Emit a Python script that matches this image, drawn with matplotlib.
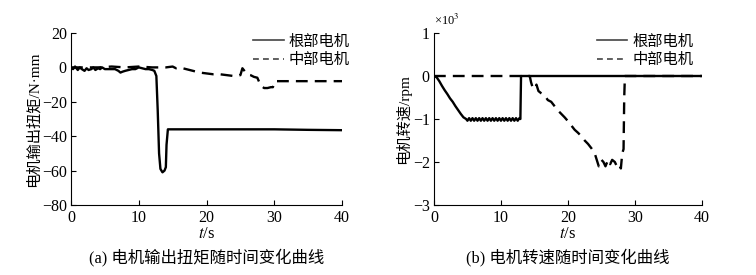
import matplotlib
matplotlib.use("Agg")
import matplotlib.pyplot as plt
from matplotlib.lines import Line2D
from matplotlib.ticker import FuncFormatter

plt.rcParams['font.family'] = ['Liberation Serif', 'Noto Sans CJK SC']
plt.rcParams['axes.unicode_minus'] = True
plt.rcParams['mathtext.fontset'] = 'stix'

# (a) motor output torque, N·mm
t_root_torque = [0, 0.3, 0.6, 1, 1.3, 1.6, 2, 2.3, 2.6, 3, 3.3, 3.6, 4, 4.3, 4.6, 5, 5.5, 6,
                 6.5, 7, 7.3, 7.6, 8, 8.5, 9, 9.5, 10, 10.5, 11, 11.5, 12, 12.3, 12.6, 12.8,
                 13.0, 13.2, 13.5, 13.8, 14.0, 14.1, 14.3, 20, 30, 35, 40]
root_torque = [0, -1, 0.5, -1.5, 0, -1, -2, -0.5, -1.5, -1, 0, -1.5, -0.5, -1, 0, -1, -1, -1,
               -1, -2, -3, -2.5, -2, -1.5, -1, -1, 0, -0.5, -1, -1, -1.5, -2, -5, -25,
               -50, -59, -61, -60, -58, -45, -36, -36, -36, -36.3, -36.5]
t_mid_torque = [0, 2, 4, 6, 8, 10, 12, 14, 15, 15.5, 16, 17, 18, 19, 20, 21, 22, 23, 24, 25,
                25.3, 25.6, 26, 26.5, 27, 27.5, 28, 28.5, 29, 29.5, 29.8, 30, 30.1, 35, 40]
mid_torque = [0, 0, 0, 0.5, 0, 0.5, 0, 0, 0.5, -0.5, 0, -1, -2, -3, -3.5, -4, -4, -4.5, -5, -4.5,
              -0.5, -2, -4, -4.5, -5.5, -6, -10.5, -12, -12, -11.5, -11.5, -9, -8, -8, -8]

# (b) motor speed, rpm
t_root_speed = [0, 0.4, 0.8, 1.2, 1.6, 2, 2.4, 2.8, 3.2, 3.6, 4, 4.4, 4.8,
                5.0, 5.25, 5.5, 5.75, 6.0, 6.25, 6.5, 6.75, 7.0, 7.25, 7.5, 7.75,
                8.0, 8.25, 8.5, 8.75, 9.0, 9.25, 9.5, 9.75, 10.0, 10.25, 10.5, 10.75,
                11.0, 11.25, 11.5, 11.75, 12.0, 12.25, 12.5, 12.75, 12.9, 13.0, 40]
root_speed = [0, -30, -120, -230, -330, -420, -520, -600, -700, -790, -880, -960, -1000,
              -1040, -980, -1040, -980, -1040, -980, -1040, -980, -1040, -980, -1040, -980,
              -1040, -980, -1040, -980, -1040, -980, -1040, -980, -1040, -980, -1040, -980,
              -1040, -980, -1040, -980, -1040, -980, -1040, -980, -1000, 0, 0]
t_mid_speed = [0, 14.3, 14.5, 14.7, 15, 15.3, 15.6, 16, 16.5, 17, 17.5, 18, 18.5, 19, 19.5,
               20, 20.5, 21, 21.5, 22, 22.5, 23, 23.5, 24, 24.3, 24.6, 25, 25.3, 25.6, 26,
               26.3, 26.6, 27, 27.3, 27.6, 27.9, 28.1, 28.3, 28.4, 28.5, 40]
mid_speed = [0, 0, -150, -250, -300, -200, -350, -400, -450, -560, -600, -700, -800, -880, -960,
             -1050, -1150, -1250, -1320, -1400, -1500, -1580, -1680, -1800, -1950, -2100,
             -1950, -2000, -2100, -1950, -2050, -1950, -2000, -2100, -2050, -2150, -1800,
             -1700, -500, 0, 0]

legend_labels = ['根部电机', '中部电机']

fig = plt.figure(figsize=(7.56, 2.75), dpi=100)
ax1 = fig.add_axes([0.0939, 0.2545, 0.3585, 0.6255])
ax2 = fig.add_axes([0.574, 0.2545, 0.3545, 0.6255])

lw = 1.7
dash = (0, (5, 3))
ax1.plot(t_mid_torque, mid_torque, color='black', lw=lw, ls=dash)
ax1.plot(t_root_torque, root_torque, color='black', lw=lw)
ax2.plot(t_mid_speed, mid_speed, color='black', lw=lw, ls=dash)
ax2.plot(t_root_speed, root_speed, color='black', lw=lw)

ax1.set_xlim(0, 40)
ax1.set_ylim(-80, 20)
ax1.set_yticks([20, 0, -20, -40, -60, -80])
ax2.set_xlim(0, 40)
ax2.set_ylim(-3000, 1000)
ax2.set_yticks([1000, 0, -1000, -2000, -3000])
ax2.yaxis.set_major_formatter(FuncFormatter(lambda v, p: f"{v / 1000:.0f}".replace('-', '\u2212')))

handles = [Line2D([], [], color='#444444', lw=1.2),
           Line2D([], [], color='#444444', lw=1.2, ls=(0, (3.5, 2.5)))]
for ax, lx in ((ax1, 1.08), (ax2, 1.02)):
    ax.set_xticks([0, 10, 20, 30, 40])
    ax.spines['top'].set_visible(False)
    ax.spines['right'].set_visible(False)
    ax.tick_params(direction='in', length=3.5, labelsize=11.5)
    ax.tick_params(axis='y', pad=3)
    ax.tick_params(axis='x', pad=3.5)
    ax.legend(handles, legend_labels, loc='upper right', bbox_to_anchor=(lx, 1.07),
              frameon=False, fontsize=11, handlelength=2.0, handletextpad=0.35,
              labelspacing=0.3)

ax1.set_ylabel('电机输出扭矩/N·mm', fontsize=11, labelpad=1)
ax2.set_ylabel('电机转速/rpm', fontsize=11, labelpad=1)
ax2.text(0.0, 1.03, '×10$^3$', transform=ax2.transAxes, fontsize=9, va='bottom')

fig.text(0.2731, 0.148, '$t$/s', ha='center', va='center', fontsize=12, family='Liberation Serif')
fig.text(0.7513, 0.148, '$t$/s', ha='center', va='center', fontsize=12, family='Liberation Serif')
fig.text(0.2731, 0.065, '(a) 电机输出扭矩随时间变化曲线', ha='center', va='center', fontsize=11.8)
fig.text(0.7513, 0.065, '(b) 电机转速随时间变化曲线', ha='center', va='center', fontsize=11.8)

fig.savefig('out.png', dpi=100)
